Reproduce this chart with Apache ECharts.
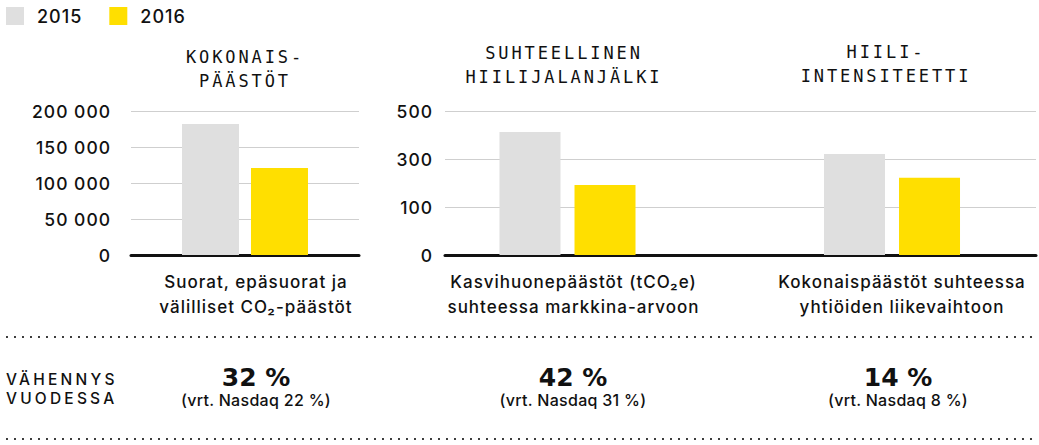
<!DOCTYPE html>
<html><head><meta charset="utf-8">
<script src="https://cdn.jsdelivr.net/npm/echarts@6/dist/echarts.min.js"></script>
<style>
html,body{margin:0;padding:0;background:#fff;}
#c{width:1039px;height:445px;}
#c text[style*="Inter"]{letter-spacing:1px;}
#c text[style*="Inter, sans-serif"]{letter-spacing:0.3px;}
#c text[style*="Inter, Roboto"]{letter-spacing:3.2px;}
#c text[style*="Mono"]{letter-spacing:2.9px;}
#c text[style*="DejaVu Sans,"]{letter-spacing:2.4px;}
</style></head><body><div id="c"></div>
<script>
// ---- data ----
const seriesNames = ['2015', '2016'];
const categories = [
  'Suorat, epäsuorat ja\nvälilliset CO₂-päästöt',
  'Kasvihuonepäästöt (tCO₂e)\nsuhteessa markkina-arvoon',
  'Kokonaispäästöt suhteessa\nyhtiöiden liikevaihtoon'
];
const panelTitles = ['KOKONAIS-\nPÄÄSTÖT', 'SUHTEELLINEN\nHIILIJALANJÄLKI', 'HIILI-\nINTENSITEETTI'];
const totalEmissions = [182000, 121000];      // 2015, 2016
const relativeFootprint = [512, 292];          // 2015, 2016 (drawn scale)
const carbonIntensity = [421, 322];            // 2015, 2016 (drawn scale)
const leftTickLabels = ['0', '50 000', '100 000', '150 000', '200 000'];
const midTickLabels = ['0', '100', '300', '500'];
const reductionPct = [32, 42, 14];
const nasdaqPct = [22, 31, 8];
const rowLabel = 'VÄHENNYS\nVUODESSA';

// ---- styles ----
const GRAY = '#dfdfdf', YELLOW = '#ffdf00', INK = '#111111';
const BODY = 'Inter';
const colors = [GRAY, YELLOW];

const chart = echarts.init(document.getElementById('c'), null, {renderer: 'svg'});

const grids = [
  {left: 131, top: 111, width: 228, height: 144},
  {left: 445, top: 111, width: 245, height: 144},
  {left: 690, top: 111, width: 58, height: 144},
  {left: 748, top: 111, width: 288, height: 144}
];
const labelPad = [22, 12, 0, 20];
const xCats = [[categories[0]], [categories[1]], [''], [categories[2]]];

const xAxis = grids.map((g, i) => ({
  type: 'category', gridIndex: i, data: xCats[i],
  axisLine: {show: true, lineStyle: {color: INK, width: 3}},
  axisTick: {show: false},
  axisLabel: {color: INK, fontFamily: BODY, fontWeight: 500, fontSize: 17, lineHeight: 25, margin: 14,
              padding: [0, 0, 0, labelPad[i]], interval: 0}
}));

const splitLine = {show: true, lineStyle: {color: '#cfcfcf', width: 1}};
const yLabel = {color: INK, fontFamily: BODY, fontWeight: 500, fontSize: 17.5};
const yAxis = [
  {type: 'value', gridIndex: 0, min: 0, max: 200000, interval: 50000, splitLine,
   axisLine: {show: false}, axisTick: {show: false},
   axisLabel: Object.assign({margin: 20, formatter: v => leftTickLabels[Math.round(v / 50000)]}, yLabel)},
  {type: 'value', gridIndex: 1, min: 0, max: 600, interval: 200, splitLine,
   axisLine: {show: false}, axisTick: {show: false},
   axisLabel: Object.assign({margin: 12, formatter: v => midTickLabels[Math.round(v / 200)]}, yLabel)},
  {type: 'value', gridIndex: 2, min: 0, max: 600, interval: 200, splitLine,
   axisLine: {show: false}, axisTick: {show: false}, axisLabel: {show: false}},
  {type: 'value', gridIndex: 3, min: 0, max: 600, interval: 200, splitLine,
   axisLine: {show: false}, axisTick: {show: false}, axisLabel: {show: false}}
];

const panels = [
  {axis: 0, values: totalEmissions, barWidth: 57, barGap: '21%'},
  {axis: 1, values: relativeFootprint, barWidth: 61, barGap: '23%'},
  {axis: 3, values: carbonIntensity, barWidth: 61, barGap: '23%'}
];
const series = [];
panels.forEach(p => {
  seriesNames.forEach((name, j) => {
    series.push({
      type: 'bar', name, xAxisIndex: p.axis, yAxisIndex: p.axis,
      data: [p.values[j]], barWidth: p.barWidth, barGap: p.barGap,
      itemStyle: {color: colors[j]}, silent: true
    });
  });
});

const titleX = [245, 564, 886], titleY = [45, 41, 40];
const colX = [256, 573, 898];
const graphic = [];
panelTitles.forEach((t, i) => graphic.push({
  type: 'text', x: titleX[i], y: titleY[i],
  style: {text: t, fontFamily: 'DejaVu Sans Mono', fontSize: 17, lineHeight: 24, fill: INK,
          align: 'center', textAlign: 'center', verticalAlign: 'top', textVerticalAlign: 'top'}
}));
reductionPct.forEach((v, i) => {
  graphic.push({
    type: 'text', x: colX[i], y: 377,
    style: {text: v + ' %', fontFamily: 'DejaVu Sans, sans-serif', fontWeight: 'bold', fontSize: 25, fill: INK,
            align: 'center', textAlign: 'center', verticalAlign: 'middle', textVerticalAlign: 'middle'}
  });
  graphic.push({
    type: 'text', x: colX[i], y: 400,
    style: {text: '(vrt. Nasdaq ' + nasdaqPct[i] + ' %)', fontFamily: 'Inter, sans-serif', fontWeight: 500, fontSize: 16, fill: INK,
            align: 'center', textAlign: 'center', verticalAlign: 'middle', textVerticalAlign: 'middle'}
  });
});
graphic.push({
  type: 'text', x: 6, y: 370,
  style: {text: rowLabel, fontFamily: 'Inter, Roboto', fontWeight: 500, fontSize: 15.5, lineHeight: 19, fill: INK,
          align: 'left', textAlign: 'left', verticalAlign: 'top', textVerticalAlign: 'top'}
});
[337, 439].forEach(y => graphic.push({
  type: 'line', shape: {x1: 7, y1: y, x2: 1037, y2: y},
  style: {stroke: INK, lineWidth: 2.2, lineDash: [0, 8], lineCap: 'round'}
}));

chart.setOption({
  animation: false,
  backgroundColor: '#fff',
  legend: {
    data: seriesNames, left: 6, top: 7, padding: 0, icon: 'rect',
    itemWidth: 18, itemHeight: 18, itemGap: 31, selectedMode: false,
    textStyle: {color: INK, fontFamily: BODY, fontWeight: 500, fontSize: 18, padding: [0, 0, 0, 8]}
  },
  grid: grids,
  xAxis, yAxis, series, graphic
});
</script></body></html>
